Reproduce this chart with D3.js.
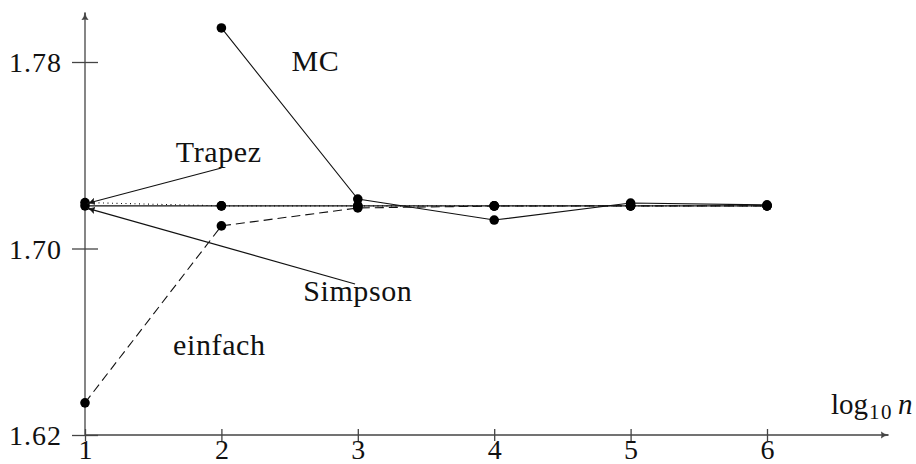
<!DOCTYPE html>
<html>
<head>
<meta charset="utf-8">
<script src="https://cdn.jsdelivr.net/npm/d3@7"></script>
<style>
  body { margin: 0; background: #fff; }
</style>
</head>
<body>
<div id="chart"></div>
<script>
// log10 n
const steps = [1, 2, 3, 4, 5, 6]
const einfach = [1.6338, 1.7097, 1.7174, 1.7182, 1.7183, 1.7183]
const trapez  = [1.7197, 1.7183, 1.7183, 1.7183, 1.7183, 1.7183]
const simpson = [1.7183, 1.7183, 1.7183, 1.7183, 1.7183, 1.7183]
const mcSteps = [2, 3, 4, 5, 6]
const mc      = [1.7946, 1.7212, 1.7122, 1.7195, 1.7187]
const yTicks  = [1.62, 1.70, 1.78]

// label text, anchor point in data coords
const labels = [
    {text: 'MC',      x: 2.69, y: 1.776},
    {text: 'Trapez',  x: 1.98, y: 1.7372},
    {text: 'Simpson', x: 3.0,  y: 1.6775},
    {text: 'einfach', x: 1.985, y: 1.6545}
]
// annotation arrows: from label to the first point
const arrows = [
    {from: [2.0, 1.7345], to: [1.02, 1.7194]},
    {from: [2.98, 1.6848], to: [1.02, 1.7172]}
]

const FONT = 'Liberation Serif'
const width = 916, height = 464

const svg = d3.select('#chart').append('svg')
    .attr('width', width)
    .attr('height', height)
    .attr('font-family', FONT)

const x = d3.scaleLinear().domain([1, 6]).range([85, 767])
const y = d3.scaleLinear().domain([1.62, 1.78]).range([435, 62])

const defs = svg.append('defs')
const marker = (id, color) => defs.append('marker')
    .attr('id', id)
    .attr('viewBox', '0 0 10 10')
    .attr('refX', 9).attr('refY', 5)
    .attr('markerWidth', 8).attr('markerHeight', 8)
    .attr('markerUnits', 'userSpaceOnUse')
    .attr('orient', 'auto')
  .append('path')
    .attr('d', 'M0,1 Q5,5 10,5 Q5,5 0,9 Q3,5 0,1Z')
    .attr('fill', color)
    .attr('stroke', color)
    .attr('stroke-width', 0.8)
marker('axisArrow', '#444')
marker('lineArrow', '#111')

// axes lines with arrows
svg.append('line')
    .attr('x1', x(1)).attr('y1', y(1.62))
    .attr('x2', 888).attr('y2', y(1.62))
    .attr('stroke', '#444').attr('stroke-width', 1.3)
    .attr('marker-end', 'url(#axisArrow)')
svg.append('line')
    .attr('x1', x(1)).attr('y1', y(1.62))
    .attr('x2', x(1)).attr('y2', 13)
    .attr('stroke', '#444').attr('stroke-width', 1.3)
    .attr('marker-end', 'url(#axisArrow)')

// y axis ticks
const yAxis = d3.axisLeft(y).tickValues(yTicks).tickFormat(d3.format('.2f')).tickSize(13)
const gy = svg.append('g')
    .attr('transform', `translate(${x(1)},0)`)
    .call(yAxis)
    .attr('font-family', FONT)
    .attr('font-size', 28)
gy.select('.domain').remove()
gy.selectAll('.tick line').attr('x1', 13).attr('x2', -13).attr('stroke', '#444').attr('stroke-width', 1.3)
gy.selectAll('.tick text')
    .attr('x', -23)
    .attr('dy', '0.34em')
    .attr('letter-spacing', 1)
    .attr('font-family', FONT)
    .attr('fill', '#111')

// x axis ticks
const xAxis = d3.axisBottom(x).tickValues(steps).tickFormat(d3.format('d')).tickSize(6)
const gx = svg.append('g')
    .attr('transform', `translate(0,${y(1.62)})`)
    .call(xAxis)
    .attr('font-family', FONT)
    .attr('font-size', 28)
gx.select('.domain').remove()
gx.selectAll('.tick line').attr('y1', -6).attr('y2', 6).attr('stroke', '#444').attr('stroke-width', 1.3)
gx.selectAll('.tick text')
    .attr('y', 24)
    .attr('dy', 0)
    .attr('font-family', FONT)
    .attr('fill', '#111')

// x axis title
const title = svg.append('text')
    .attr('x', 831).attr('y', 414)
    .attr('font-family', FONT)
    .attr('font-size', 29)
    .attr('fill', '#111')
title.append('tspan').text('log')
title.append('tspan').attr('dy', 5).attr('dx', 1).attr('font-size', 21).attr('letter-spacing', 1.5).text('10')
title.append('tspan').attr('dy', -5).attr('dx', 5).attr('font-style', 'italic').text('n')

// series
const line = d3.line().x(d => x(d[0])).y(d => y(d[1]))
const series = [
    {xs: steps, ys: simpson, dash: null},
    {xs: steps, ys: trapez, dash: '1,3.5'},
    {xs: steps, ys: einfach, dash: '9,5'},
    {xs: mcSteps, ys: mc, dash: null}
]
series.forEach(s => {
    const pts = s.xs.map((v, i) => [v, s.ys[i]])
    svg.append('path')
        .datum(pts)
        .attr('d', line)
        .attr('fill', 'none')
        .attr('stroke', '#111')
        .attr('stroke-width', 1.1)
        .attr('stroke-dasharray', s.dash)
    svg.append('g').selectAll('circle')
        .data(pts)
        .enter()
        .append('circle')
        .attr('cx', d => x(d[0]))
        .attr('cy', d => y(d[1]))
        .attr('r', 4.8)
        .attr('fill', '#000')
})

// annotation arrows
svg.append('g').selectAll('line')
    .data(arrows)
    .enter()
    .append('line')
    .attr('x1', d => x(d.from[0])).attr('y1', d => y(d.from[1]))
    .attr('x2', d => x(d.to[0])).attr('y2', d => y(d.to[1]))
    .attr('stroke', '#111')
    .attr('stroke-width', 1.1)
    .attr('marker-end', 'url(#lineArrow)')

// labels
svg.append('g').selectAll('text')
    .data(labels)
    .enter()
    .append('text')
    .attr('x', d => x(d.x))
    .attr('y', d => y(d.y))
    .attr('text-anchor', 'middle')
    .attr('font-family', FONT)
    .attr('font-size', 30)
    .attr('letter-spacing', 0.6)
    .attr('fill', '#111')
    .text(d => d.text)
</script>
</body>
</html>
